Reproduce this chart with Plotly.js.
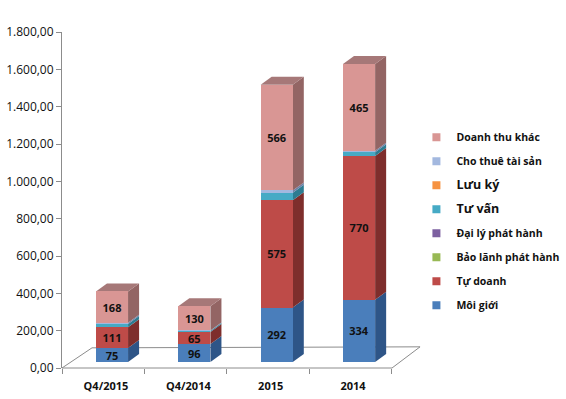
<!DOCTYPE html>
<html>
<head>
<meta charset="utf-8">
<script src="https://cdn.plot.ly/plotly-3.0.1.min.js"></script>
<style>html,body{margin:0;padding:0;background:#fff;}#chart{width:566px;height:399px;}</style>
</head>
<body>
<div id="chart"></div>
<script>
// ---- data ----
var categories = ['Q4/2015', 'Q4/2014', '2015', '2014'];
var moiGioi   = [75, 96, 292, 334];
var tuDoanh   = [111, 65, 575, 770];
var baoLanh   = [0, 0, 0, 0];
var daiLy     = [0, 0, 0, 0];
var tuVan     = [18, 5, 40, 20];
var luuKy     = [0, 0, 0, 0];
var choThue   = [6, 3, 12, 8];
var doanhThuKhac = [168, 130, 566, 465];
var seriesNames = ['Môi giới', 'Tự doanh', 'Bảo lãnh phát hành', 'Đại lý phát hành', 'Tư vấn', 'Lưu ký', 'Cho thuê tài sản', 'Doanh thu khác'];
var yTicks = [0, 200, 400, 600, 800, 1000, 1200, 1400, 1600, 1800];

// ---- styles ----
var series = [moiGioi, tuDoanh, baoLanh, daiLy, tuVan, luuKy, choThue, doanhThuKhac];
var showText = [true, true, false, false, false, false, false, true];
var bigLegend = [false, false, false, false, true, true, false, false];
var front = ['#4A7EBB', '#BE4B48', '#98B954', '#7D60A0', '#46AAC5', '#F69240', '#A3B8DF', '#D99694'];
var side  = ['#2E5587', '#7E2E2C', '#66803A', '#523E6B', '#2D7C91', '#B0642A', '#6E82A8', '#936564'];
var topc  = ['#3B6AA3', '#9C3C3A', '#7E9A48', '#674E86', '#3992AB', '#D27A35', '#8799C0', '#A67878'];
var X = categories.map(function (c, i) { return i; });
var barW = 0.39, dx = 0.134, dy = 43;

var traces = [];
series.forEach(function (vals, s) {
  traces.push({
    type: 'bar', x: X, y: vals, name: seriesNames[s], yaxis: 'y2',
    width: barW, showlegend: false,
    marker: {color: front[s], line: {width: 0}},
    text: showText[s] ? vals.map(String) : null,
    textposition: showText[s] ? 'inside' : 'none',
    insidetextanchor: 'middle', textangle: 0, constraintext: 'none',
    textfont: {family: 'Open Sans, sans-serif', size: 11, color: '#111', weight: 'bold'},
    hoverinfo: 'x+y+name'
  });
});
// legend entries (small square swatches), top-to-bottom order as in the legend
for (var s = series.length - 1; s >= 0; s--) {
  traces.push({
    type: 'scatter', mode: 'markers', x: [null], y: [null],
    name: bigLegend[s] ? '<span style="font-size:12.5px">' + seriesNames[s] + '</span>' : seriesNames[s],
    legendgroup: 'g' + s, showlegend: true,
    marker: {symbol: 'square', size: 8, color: front[s]}
  });
}

// 3D side / top faces built from the data
var shapes = [];
X.forEach(function (xi, i) {
  var base = 0, xr = xi + barW / 2, xl = xi - barW / 2, lastS = -1;
  series.forEach(function (vals, s) {
    var v = vals[i];
    if (!v) return;
    var y0 = base, y1 = base + v;
    shapes.push({
      type: 'path', xref: 'x', yref: 'y2', layer: 'below',
      path: 'M' + xr + ',' + y0 + ' L' + xr + ',' + y1 + ' L' + (xr + dx) + ',' + (y1 + dy) + ' L' + (xr + dx) + ',' + (y0 + dy) + ' Z',
      fillcolor: side[s], line: {width: 0}
    });
    base = y1; lastS = s;
  });
  shapes.push({
    type: 'path', xref: 'x', yref: 'y2', layer: 'below',
    path: 'M' + xl + ',' + base + ' L' + xr + ',' + base + ' L' + (xr + dx) + ',' + (base + dy) + ' L' + (xl + dx) + ',' + (base + dy) + ' Z',
    fillcolor: topc[lastS], line: {width: 0}
  });
});
// floor
shapes.unshift({
  type: 'path', xref: 'paper', yref: 'paper', layer: 'below',
  path: 'M0,0 L0.091,0.06 L1.085,0.063 L1.0,0 Z',
  fillcolor: 'rgba(0,0,0,0)', line: {color: '#8C8C8C', width: 1}
});

var layout = {
  width: 566, height: 399,
  margin: {l: 62, r: 174, t: 32, b: 31, autoexpand: false},
  paper_bgcolor: '#fff', plot_bgcolor: 'rgba(0,0,0,0)',
  separators: ',.',
  barmode: 'stack',
  font: {family: 'Open Sans, sans-serif', size: 11, color: '#111'},
  uniformtext: {mode: 'show', minsize: 11},
  xaxis: {
    range: [-0.607, 3.40], showgrid: false, zeroline: false,
    showline: false, automargin: false,
    tickvals: X, ticktext: categories, ticks: '', ticklabelshift: -6, ticklabelstandoff: 10,
    tickfont: {family: 'Open Sans, sans-serif', size: 11, color: '#111', weight: 'bold'},
    minor: {tickvals: X.map(function (x) { return x - 0.607; }).concat([3.393]), ticks: 'outside', ticklen: 5, tickcolor: '#8C8C8C', showgrid: false}
  },
  yaxis: {
    range: [0, 1800], tickvals: yTicks, tickformat: ',.2f', automargin: false,
    showgrid: false, zeroline: false, showline: true, linecolor: '#8C8C8C',
    ticks: 'outside', ticklen: 5, tickcolor: '#8C8C8C',
    tickfont: {family: 'Open Sans, sans-serif', size: 12, color: '#111'}
  },
  yaxis2: {range: [-32, 1768], overlaying: 'y', visible: false},
  showlegend: true,
  legend: {
    x: 1.074, xanchor: 'left', y: 0.73, yanchor: 'top',
    traceorder: 'grouped', tracegroupgap: 5,
    itemwidth: 30,
    font: {family: 'Open Sans, sans-serif', size: 10.5, color: '#111', weight: 'bold'},
    bgcolor: 'rgba(0,0,0,0)'
  },
  shapes: shapes
};

Plotly.newPlot('chart', traces, layout, {displayModeBar: false, staticPlot: true});
</script>
</body>
</html>
